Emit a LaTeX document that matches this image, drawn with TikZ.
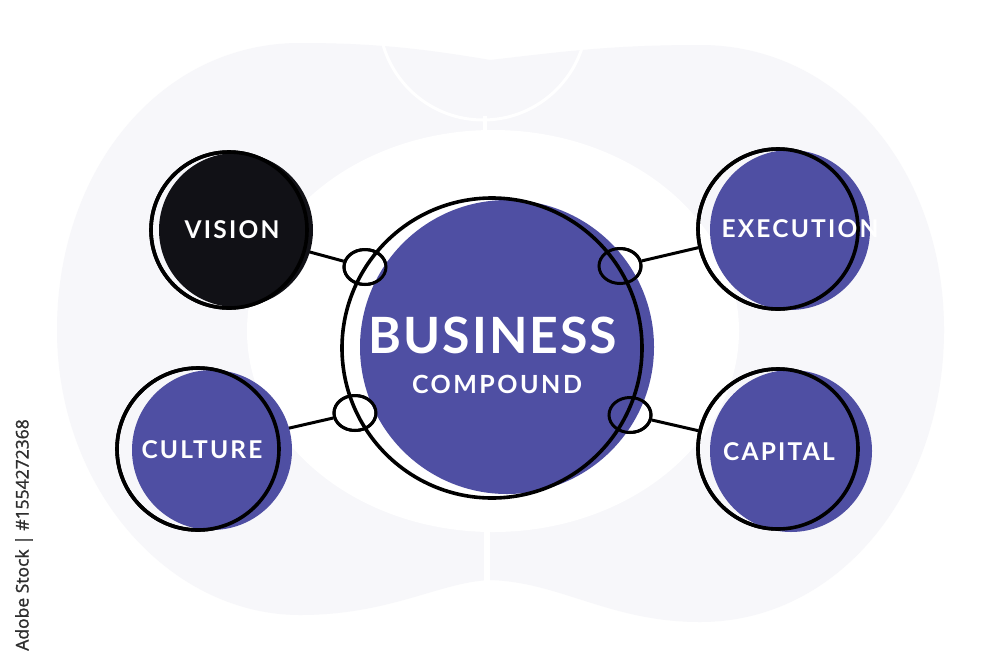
\documentclass[tikz,border=0pt]{standalone}
\usepackage{fontspec}
\setmainfont{Lato}
\newfontfamily\idfont[FakeBold=1.3]{Open Sans}
\usetikzlibrary{shapes.geometric}
\definecolor{bizpurple}{HTML}{4F4FA3}
\definecolor{inkblack}{HTML}{111116}
\definecolor{bggray}{HTML}{F7F7FA}
\definecolor{idgray}{HTML}{2E2E2E}
\tikzset{
  fillc/.style={circle, inner sep=0pt, draw=none},
  outl/.style={circle, inner sep=0pt, draw=black, line width=3.6pt},
  ringc/.style={ellipse, inner sep=0pt, draw=black, line width=3pt, minimum width=42pt, minimum height=35pt},
  conn/.style={draw=black, line width=3pt},
  lbl/.style={text=white, inner sep=0pt, font=\bfseries\fontsize{24.5}{24.5}\selectfont\addfontfeature{LetterSpace=9}},
  bgline/.style={draw=white, line width=3pt}
}
\begin{document}
\begin{tikzpicture}[x=1pt,y=-1pt]
\useasboundingbox (0,0) rectangle (1000,667);
\fill[white] (0,0) rectangle (1000,667);
% background blob
\fill[bggray] (490,60) .. controls (420,48) and (370,43) .. (300,43)
  .. controls (160,43) and (57,170) .. (57,330)
  .. controls (57,490) and (170,615) .. (300,615)
  .. controls (390,615) and (440,582) .. (490,580)
  .. controls (560,582) and (610,622) .. (700,622)
  .. controls (840,622) and (944,490) .. (944,330)
  .. controls (944,170) and (840,45) .. (700,45)
  .. controls (610,45) and (560,52) .. (490,60) -- cycle;
\fill[white] (493,331) ellipse [x radius=246, y radius=201];
\draw[bgline] (483,16) circle [radius=104];
\draw[white, line width=4pt] (485,116) -- (485,134);
\draw[white, line width=6pt] (487,528) -- (487,586);
% rings (positions)
\node[ringc] (r1) at (365,267) {};
\node[ringc] (r2) at (620,266) {};
\node[ringc] (r3) at (355,413) {};
\node[ringc] (r4) at (630,415) {};
% outline circles (positions, for connectors)
\node[outl, minimum size=156pt] (vis) at (229,230) {};
\node[outl, minimum size=162pt] (cul) at (198,449) {};
\node[outl, minimum size=160pt] (exe) at (778,229) {};
\node[outl, minimum size=160pt] (cap) at (778,449) {};
% connectors (behind the fills)
\draw[conn] (vis) -- (r1);
\draw[conn] (cul) -- (r3);
\draw[conn] (r2) -- (exe);
\draw[conn] (r4) -- (cap);
% fills
\node[fillc, fill=inkblack, minimum size=154pt] (visfill) at (236,230) {};
\node[fillc, fill=bizpurple, minimum size=160pt] (culfill) at (212,450) {};
\node[fillc, fill=bizpurple, minimum size=160pt] (exefill) at (790,230) {};
\node[fillc, fill=bizpurple, minimum size=162pt] (capfill) at (791,451) {};
\node[fillc, fill=bizpurple, minimum size=294pt] (bizfill) at (507,347) {};
% outlines on top
\node[outl, minimum size=156pt] at (229,230) {};
\node[outl, minimum size=162pt] at (198,449) {};
\node[outl, minimum size=160pt] at (778,229) {};
\node[outl, minimum size=160pt] at (778,449) {};
\node[outl, minimum size=300pt] (biz) at (492,348) {};
\node[ringc] at (r1) {};
\node[ringc] at (r2) {};
\node[ringc] at (r3) {};
\node[ringc] at (r4) {};
% labels
\node[lbl] (vistxt) at (232,230) {VISION};
\node[lbl] (cultxt) at (202,450) {CULTURE};
\node[lbl] (exetxt) at (800,229) {EXECUTION};
\node[lbl] (captxt) at (779,452) {CAPITAL};
\node[text=white, inner sep=0pt, font=\bfseries\fontsize{50}{50}\selectfont\addfontfeature{LetterSpace=4}] (biztxt) at (493,335) {BUSINESS};
\node[text=white, inner sep=0pt, font=\bfseries\fontsize{25}{25}\selectfont\addfontfeature{LetterSpace=10}] (comptxt) at (497,384) {COMPOUND};
% stock id
\node[rotate=90, text=idgray, inner sep=0pt, font=\idfont\fontsize{17.5}{17.5}\selectfont] (stockid) at (24,535) {Adobe Stock | \#1554272368};
\end{tikzpicture}
\end{document}
